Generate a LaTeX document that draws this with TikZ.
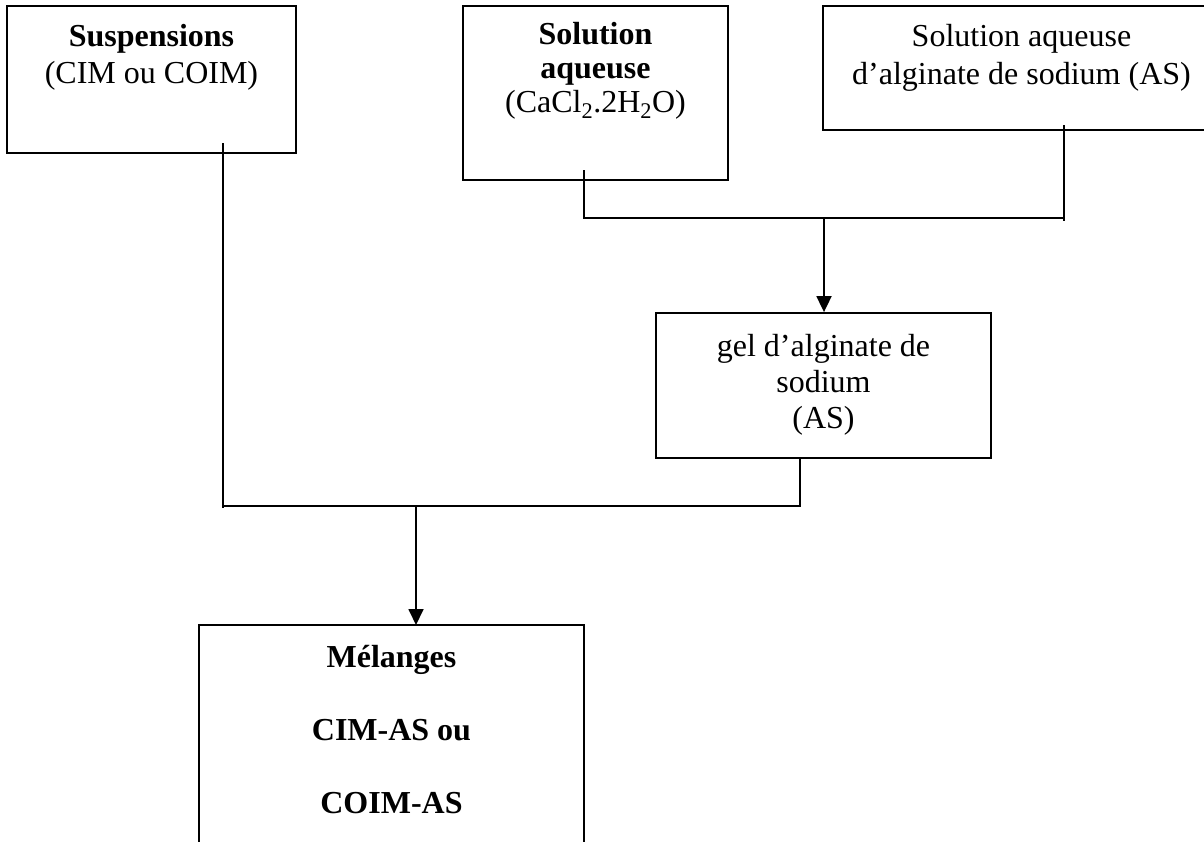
\documentclass[tikz,border=0pt]{standalone}
\usepackage{fontspec}
\setmainfont{Liberation Serif}
\usetikzlibrary{arrows.meta}
\begin{document}
\begin{tikzpicture}[x=1pt,y=-1pt,
  box/.style={draw,line width=1.8pt,rectangle,inner sep=0pt},
  txt/.style={anchor=north,inner sep=0pt,align=center,font=\fontsize{32}{37}\selectfont},
  conn/.style={line width=1.8pt},
  arr/.style={line width=1.8pt,-{Triangle[length=16pt,width=15pt]}}]
\useasboundingbox (0,0) rectangle (1204,841);
% boxes
\node[box,minimum width=289pt,minimum height=147pt] (b1) at (151.5,79.5) {};
\node[box,minimum width=265pt,minimum height=174pt] (b2) at (595.5,93) {};
\node[box,minimum width=397pt,minimum height=124pt] (b3) at (1021.5,68) {};
\node[box,minimum width=335pt,minimum height=145pt] (gel) at (823.5,385.5) {};
\draw[line width=1.8pt] (199,845) -- (199,625) -- (584,625) -- (584,845);
\coordinate (mtop) at (416,625);
% texts
\node[txt] (t1) at (151.5,20) {\strut\textbf{Suspensions}\\(CIM ou COIM)};
\node[txt,font=\fontsize{32}{34}\selectfont] (t2) at (595.5,20) {\strut\textbf{Solution}\\\textbf{aqueuse}\\(CaCl\textsubscript{2}.2H\textsubscript{2}O)};
\node[txt,font=\fontsize{32}{38}\selectfont] (t3) at (1021.5,20) {\strut Solution aqueuse\\d’alginate de sodium (AS)};
\node[txt,font=\fontsize{32}{36}\selectfont] (t4) at (823.5,331) {\strut gel d’alginate de\\sodium\\(AS)};
\node[txt] (t5) at (391.5,641) {\strut\textbf{Mélanges}\\[36pt]\textbf{CIM-AS ou}\\[36pt]\textbf{COIM-AS}};
% connector points
\coordinate (s1) at (223,143);
\coordinate (e1) at (223,508);
\coordinate (s2) at (584,170);
\coordinate (s3) at (1064,125);
\coordinate (e3) at (1064,221);
\coordinate (j2) at (824,218);
\coordinate (g1) at (800,458);
\coordinate (j1) at (416,506);
% connectors
\draw[conn] (s1) -- (e1);
\draw[conn] (s2) |- (j2) -| (s3);
\draw[conn] (s3) -- (e3);
\draw[conn] (g1) |- (j1) -- (223,506);
\draw[arr] (j2) -- (gel.north -| j2);
\draw[arr] (j1) -- (mtop);
\end{tikzpicture}
\end{document}
